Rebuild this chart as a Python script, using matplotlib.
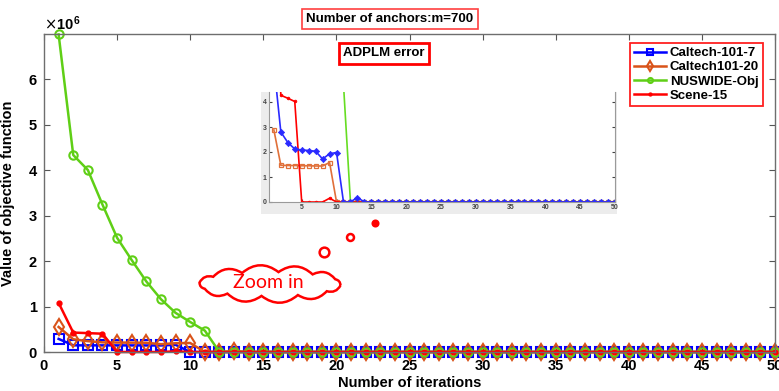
import matplotlib
matplotlib.use("Agg")
import matplotlib.pyplot as plt
import numpy as np
from matplotlib.path import Path
from matplotlib.patches import PathPatch, Rectangle
from matplotlib.lines import Line2D

plt.rcParams['font.family'] = ['Liberation Sans', 'DejaVu Sans']

# ---------------- data (objective value, x10^6) ----------------
iterations = list(range(1, 51))
caltech7 = [0.288, 0.147, 0.146, 0.146, 0.145, 0.145, 0.144, 0.144, 0.158, 0.0,
            0, 0, 0, 0, 0, 0, 0, 0, 0, 0, 0, 0, 0, 0, 0, 0, 0, 0, 0, 0,
            0, 0, 0, 0, 0, 0, 0, 0, 0, 0, 0, 0, 0, 0, 0, 0, 0, 0, 0, 0]
caltech20 = [0.55, 0.280, 0.238, 0.212, 0.208, 0.206, 0.203, 0.172, 0.193, 0.198,
             0.0, 0.0, 0.018, 0, 0, 0, 0, 0, 0, 0, 0, 0, 0, 0, 0, 0, 0, 0, 0, 0,
             0, 0, 0, 0, 0, 0, 0, 0, 0, 0, 0, 0, 0, 0, 0, 0, 0, 0, 0, 0]
nuswide = [6.98, 4.33, 4.00, 3.24, 2.51, 2.02, 1.55, 1.16, 0.86, 0.66,
           0.47, 0.0, 0, 0, 0, 0, 0, 0, 0, 0, 0, 0, 0, 0, 0, 0, 0, 0, 0, 0,
           0, 0, 0, 0, 0, 0, 0, 0, 0, 0, 0, 0, 0, 0, 0, 0, 0, 0, 0, 0]
scene15 = [1.08, 0.427, 0.415, 0.402, 0.0, 0.0, 0.0, 0.0, 0.015, 0.0,
           0, 0, 0, 0, 0, 0, 0, 0, 0, 0, 0, 0, 0, 0, 0, 0, 0, 0, 0, 0,
           0, 0, 0, 0, 0, 0, 0, 0, 0, 0, 0, 0, 0, 0, 0, 0, 0, 0, 0, 0]
series_names = ['Caltech-101-7', 'Caltech101-20', 'NUSWIDE-Obj', 'Scene-15']
x_ticks = [0, 5, 10, 15, 20, 25, 30, 35, 40, 45, 50]
y_ticks = [0, 1, 2, 3, 4, 5, 6]
inset_x_ticks = [5, 10, 15, 20, 25, 30, 35, 40, 45, 50]
inset_y_ticks = [0, 1, 2, 3, 4]
inset_scale = 10  # inset shows values in units of 10^5

W, H = 779, 391
fig = plt.figure(figsize=(W / 100, H / 100), dpi=100)


def fx(px):
    return px / W


def fy(py):
    return 1 - py / H


# ---------------- main axes ----------------
ax = fig.add_axes([fx(44), fy(352), fx(775) - fx(44), fy(34) - fy(352)])
blue, orange, green, red = '#0000ff', '#d95319', '#5fcf16', '#ff0000'

l1, = ax.plot(iterations, caltech7, color=blue, lw=1.8, marker='s', ms=6.5,
              mfc='none', mew=1.5, clip_on=False)
l2, = ax.plot(iterations, caltech20, color=orange, lw=1.8, marker='d', ms=8,
              mfc='none', mew=1.5, clip_on=False)
l3, = ax.plot(iterations, nuswide, color=green, lw=1.8, marker='o', ms=6,
              mfc='none', mew=1.5, clip_on=False)
l4, = ax.plot(iterations, scene15, color=red, lw=1.8, marker='o', ms=3.5,
              mfc=red, mew=1, clip_on=False)

ax.set_xlim(0, 50)
ax.set_ylim(0, 6.99)
ax.set_xticks(x_ticks)
ax.set_yticks(y_ticks)
ax.tick_params(direction='in', length=4, top=True, right=True,
               labelsize=10.5, color='#555555', pad=5)
for lab in ax.get_xticklabels() + ax.get_yticklabels():
    lab.set_fontweight('bold')
for sp in ax.spines.values():
    sp.set_color('#6e6e6e')
    sp.set_linewidth(1.0)
ax.set_xlabel('Number of iterations', fontsize=10.5, fontweight='bold', labelpad=2)
ax.set_ylabel('Value of objective function', fontsize=10.5, fontweight='bold', labelpad=10)
ax.text(0, 1.005, r'$\times$10', transform=ax.transAxes, fontsize=10.5,
        fontweight='bold', ha='left', va='bottom')
ax.text(0.041, 1.025, '6', transform=ax.transAxes, fontsize=7.5,
        fontweight='bold', ha='left', va='bottom')

leg = ax.legend([l1, l2, l3, l4], series_names, loc='upper right',
                bbox_to_anchor=(fx(763), fy(43)), bbox_transform=fig.transFigure,
                borderaxespad=0, fancybox=False, framealpha=1, markerscale=0.6,
                prop={'weight': 'bold', 'size': 9.5}, handlelength=2.4,
                handletextpad=0.3, borderpad=0.3, labelspacing=0.15)
leg.get_frame().set_edgecolor('#ff2020')
leg.get_frame().set_linewidth(1.3)

# ---------------- inset ----------------
fig.add_artist(Rectangle((fx(261), fy(214)), fx(617) - fx(261), fy(92) - fy(214),
                         transform=fig.transFigure, fc='#ececec', ec='none', zorder=1))
iax = fig.add_axes([fx(269), fy(202), fx(615) - fx(269), fy(92) - fy(202)], zorder=2)
sc = inset_scale
iax.plot(iterations, [v * sc for v in caltech7], color='#e0703a', lw=1.2, marker='s',
         ms=3.5, mfc='none', mew=0.9)
iax.plot(iterations, [v * sc for v in nuswide], color='#66dd22', lw=1.2, marker='o',
         ms=3, mfc='none', mew=0.8)
iax.plot(iterations, [v * sc for v in scene15], color=red, lw=1.2, marker='o',
         ms=2, mfc=red, mew=0.5)
iax.plot(iterations, [v * sc for v in caltech20], color='#2a2aff', lw=1.2, marker='D',
         ms=3.2, mfc='#2a2aff', mew=0.5)
iax.set_xlim(0.3, 50)
iax.set_ylim(0, 4.4)
iax.set_xticks(inset_x_ticks)
iax.set_yticks(inset_y_ticks)
iax.tick_params(direction='in', length=2, labelsize=5, colors='#444444', pad=1.5,
                right=True)
for lab in iax.get_xticklabels() + iax.get_yticklabels():
    lab.set_fontweight('bold')
for name, sp in iax.spines.items():
    sp.set_color('#9a9a9a')
    sp.set_linewidth(0.8)
iax.spines['top'].set_visible(False)

# ---------------- annotations ----------------
fig.text(fx(390), fy(19), 'Number of anchors:m=700', ha='center', va='center',
         fontsize=9.5, fontweight='bold',
         bbox=dict(boxstyle='square,pad=0.32', fc='white', ec='#ff4040', lw=1.2))
fig.text(fx(384), fy(53.5), 'ADPLM error', ha='center', va='center',
         fontsize=9.5, fontweight='bold',
         bbox=dict(boxstyle='square,pad=0.35', fc='white', ec='#ff0000', lw=2))


def cloud_path(cx, cy, a, b, n=12, bulge=0.4):
    ts = np.linspace(0, 2 * np.pi, n + 1) + 0.12
    pts = np.column_stack([cx + a * np.cos(ts), cy + b * np.sin(ts)])
    verts = [pts[0]]
    codes = [Path.MOVETO]
    for i in range(n):
        p0, p1 = pts[i], pts[i + 1]
        m = (p0 + p1) / 2
        d = p1 - p0
        L = np.hypot(*d)
        nrm = np.array([d[1], -d[0]]) / L
        if np.dot(nrm, m - np.array([cx, cy])) < 0:
            nrm = -nrm
        ctrl = m + nrm * L * bulge
        verts += [ctrl, p1]
        codes += [Path.CURVE3, Path.CURVE3]
    verts = np.array(verts)
    fverts = np.column_stack([verts[:, 0] / W, 1 - verts[:, 1] / H])
    return Path(fverts, codes)


fig.add_artist(PathPatch(cloud_path(270, 284, 71, 12), transform=fig.transFigure,
                         fc='white', ec='#ff0000', lw=1.8, zorder=4))
fig.text(fx(268), fy(283), 'Zoom in', ha='center', va='center', color='#ff0000',
         fontsize=14, family=['Lato', 'DejaVu Sans'], zorder=5)
for (px, py, size, filled) in [(324, 252, 7, False), (350, 237, 5, False),
                               (375, 223, 4, True)]:
    fig.add_artist(Line2D([fx(px)], [fy(py)], transform=fig.transFigure, marker='o',
                          ms=size, mfc='#ff0000' if filled else 'none',
                          mec='#ff0000', mew=1.8, ls='none', zorder=5))

fig.savefig('out.png', dpi=100)
